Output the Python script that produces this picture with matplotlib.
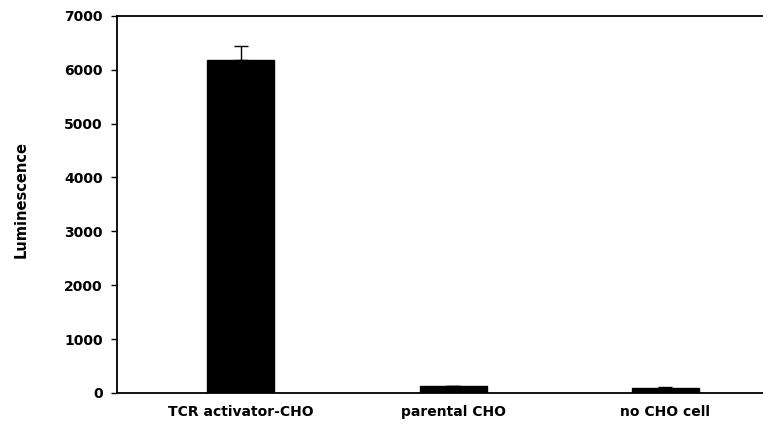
import matplotlib
matplotlib.use("Agg")
import matplotlib.pyplot as plt
import numpy as np

categories = ["TCR activator-CHO", "parental CHO", "no CHO cell"]
values = [6180, 130, 95]
errors = [260, 0, 12]
yticks = [0, 1000, 2000, 3000, 4000, 5000, 6000, 7000]

fig = plt.figure(figsize=(7.63, 4.28), dpi=100)
ax = fig.add_axes([0.153, 0.082, 0.847, 0.881])

x = np.arange(len(categories))
ax.bar(x, values, width=0.316, color="black", edgecolor="black", zorder=2)
ax.errorbar(x, values, yerr=[np.zeros(len(errors)), errors], fmt="none",
            ecolor="black", elinewidth=1, capsize=5, capthick=1, zorder=1)

ax.set_xlim(-0.585, 2.46)
ax.set_ylim(0, 7000)
ax.set_yticks(yticks)
ax.set_yticklabels([str(t) for t in yticks], fontsize=10, fontweight="bold")
ax.set_xticks(x)
ax.set_xticklabels(categories, fontsize=10, fontweight="bold")
ax.tick_params(axis="x", length=0, pad=9)
ax.tick_params(axis="y", direction="out", length=4, width=1, pad=6)

ax.spines["right"].set_visible(False)
for s in ["left", "bottom", "top"]:
    ax.spines[s].set_linewidth(1.3)

fig.text(0.028, 0.533, "Luminescence", rotation=90, fontsize=10.5,
         fontweight="bold", va="center", ha="center")

fig.savefig("out.png", dpi=100)
